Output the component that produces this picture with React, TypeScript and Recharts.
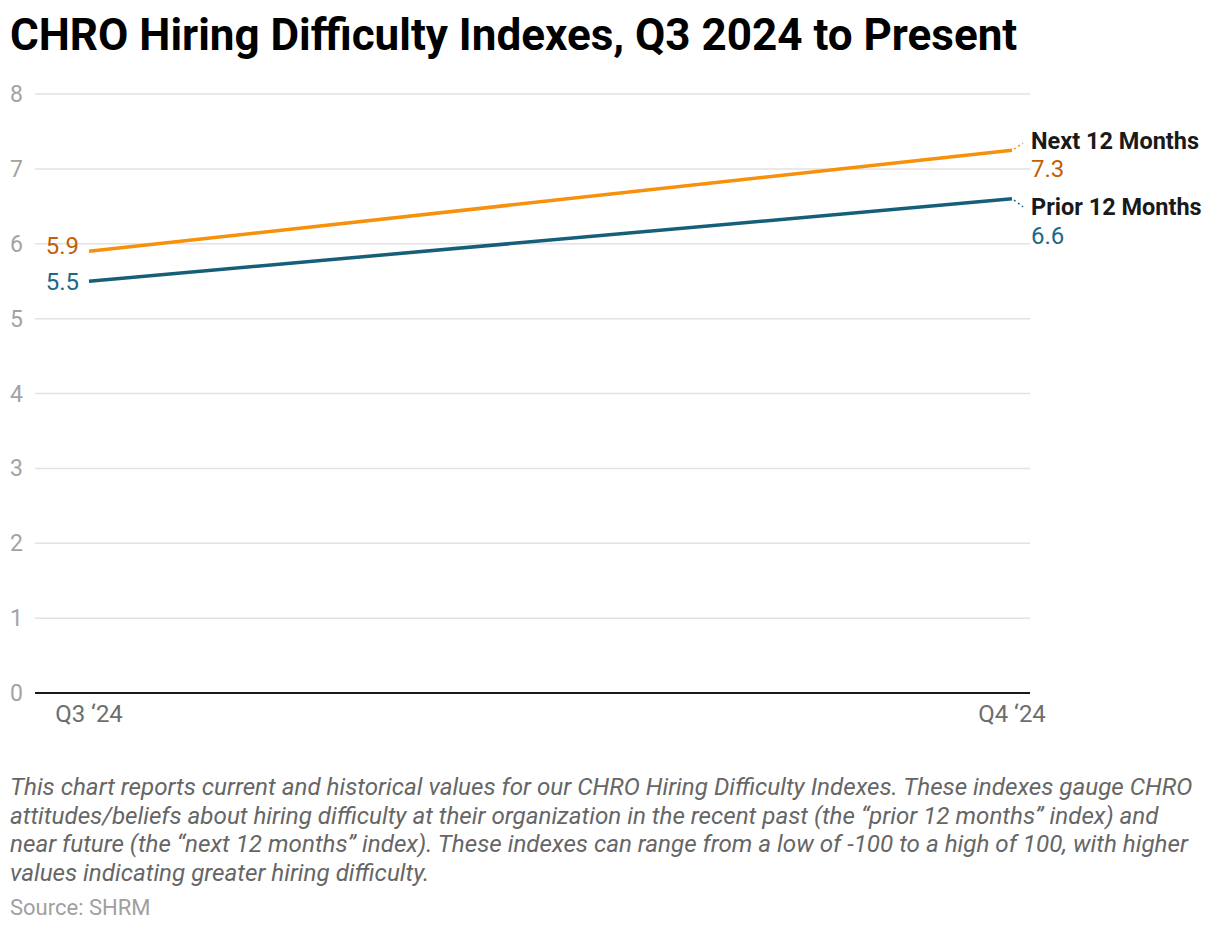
import React from "react";
import {
  LineChart,
  Line,
  XAxis,
  YAxis,
  CartesianGrid,
  LabelList,
} from "recharts";

// CHRO hiring difficulty indexes, Q3 2024 to present.
const quarters = ["Q3 \u201824", "Q4 \u201824"];
const nextMonths = [5.9, 7.25];
const priorMonths = [5.5, 6.6];
const yTicks = [0, 1, 2, 3, 4, 5, 6, 7, 8];

const data = quarters.map((q, i) => ({
  q,
  next: nextMonths[i],
  prior: priorMonths[i],
}));

const FONT = "Roboto, 'Noto Sans', sans-serif";

const series = [
  {
    key: "next",
    name: "Next 12 Months",
    line: "#f7900b",
    label: "#c45e05",
    startDy: -5,
    nameDy: -9,
    valueDy: 19,
    lead: -7,
  },
  {
    key: "prior",
    name: "Prior 12 Months",
    line: "#165f78",
    label: "#1b6987",
    startDy: 1,
    nameDy: 8,
    valueDy: 37,
    lead: 8,
  },
];

const makeLabel = (s: (typeof series)[number]) => (props: any) => {
  const { x, y, index, value } = props;
  const txt = Number(value).toFixed(1);
  if (index === 0) {
    return (
      <text
        x={x - 10}
        y={y + s.startDy}
        dy={8}
        textAnchor="end"
        fontSize={24}
        fontFamily={FONT}
        fill={s.label}
      >
        {txt}
      </text>
    );
  }
  if (index !== quarters.length - 1) return null;
  return (
    <g>
      <line
        x1={x + 2}
        y1={y + s.lead * 0.15}
        x2={x + 11}
        y2={y + s.lead}
        stroke={s.line}
        strokeWidth={1.5}
        strokeDasharray="2 3"
      />
      <text
        x={x + 19}
        y={y + s.nameDy}
        dy={8}
        fontSize={23.5}
        fontWeight={700}
        fontFamily={FONT}
        fill="#1a1a1a"
      >
        {s.name}
      </text>
      <text
        x={x + 19}
        y={y + s.valueDy}
        dy={8}
        fontSize={24}
        fontFamily={FONT}
        fill={s.label}
      >
        {txt}
      </text>
    </g>
  );
};

const YTick = (props: any) => (
  <text
    x={10}
    y={props.y}
    dy={8}
    fontSize={23}
    fontFamily={FONT}
    fill="#a3a3a3"
  >
    {props.payload.value}
  </text>
);

const XTick = (props: any) => (
  <text
    x={props.x}
    y={props.y}
    dy={21}
    textAnchor="middle"
    fontSize={24}
    fontFamily={FONT}
    fill="#6e6e6e"
  >
    {props.payload.value}
  </text>
);

export default function App() {
  return (
    <div
      style={{
        position: "relative",
        width: 1220,
        height: 932,
        margin: -8,
        background: "#fff",
        fontFamily: FONT,
        overflow: "hidden",
      }}
    >
      <div
        style={{
          position: "absolute",
          left: 10,
          top: 9,
          fontSize: 44,
          lineHeight: "52px",
          fontWeight: 700,
          color: "#000",
          whiteSpace: "nowrap",
        }}
      >
        CHRO Hiring Difficulty Indexes, Q3 2024 to Present
      </div>
      <div style={{ position: "absolute", left: 0, top: 0 }}>
        <LineChart
          width={1220}
          height={760}
          data={data}
          margin={{ top: 94, right: 190, left: 0, bottom: 27 }}
        >
          <CartesianGrid
            vertical={false}
            stroke="#e2e2e2"
            strokeWidth={1.5}
          />
          <XAxis
            dataKey="q"
            height={40}
            padding={{ left: 54, right: 18 }}
            axisLine={{ stroke: "#1a1a1a", strokeWidth: 2 }}
            tickLine={false}
            tick={<XTick />}
            interval={0}
          />
          <YAxis
            width={35}
            domain={[0, 8]}
            ticks={yTicks}
            axisLine={false}
            tickLine={false}
            tick={<YTick />}
          />
          {series.map((s) => (
            <Line
              key={s.key}
              dataKey={s.key}
              stroke={s.line}
              strokeWidth={3.5}
              dot={false}
              activeDot={false}
              isAnimationActive={false}
            >
              <LabelList dataKey={s.key} content={makeLabel(s)} />
            </Line>
          ))}
        </LineChart>
      </div>
      <div
        style={{
          position: "absolute",
          left: 10,
          top: 773,
          fontSize: 24.2,
          lineHeight: "28.5px",
          fontStyle: "italic",
          color: "#666",
          whiteSpace: "nowrap",
        }}
      >
        This chart reports current and historical values for our CHRO Hiring
        Difficulty Indexes. These indexes gauge CHRO
        <br />
        attitudes/beliefs about hiring difficulty at their organization in the
        recent past (the “prior 12 months” index) and
        <br />
        near future (the “next 12 months” index). These indexes can range from
        a low of -100 to a high of 100, with higher
        <br />
        values indicating greater hiring difficulty.
      </div>
      <div
        style={{
          position: "absolute",
          left: 10,
          top: 895,
          fontSize: 22,
          color: "#a0a0a0",
        }}
      >
        Source: SHRM
      </div>
    </div>
  );
}
